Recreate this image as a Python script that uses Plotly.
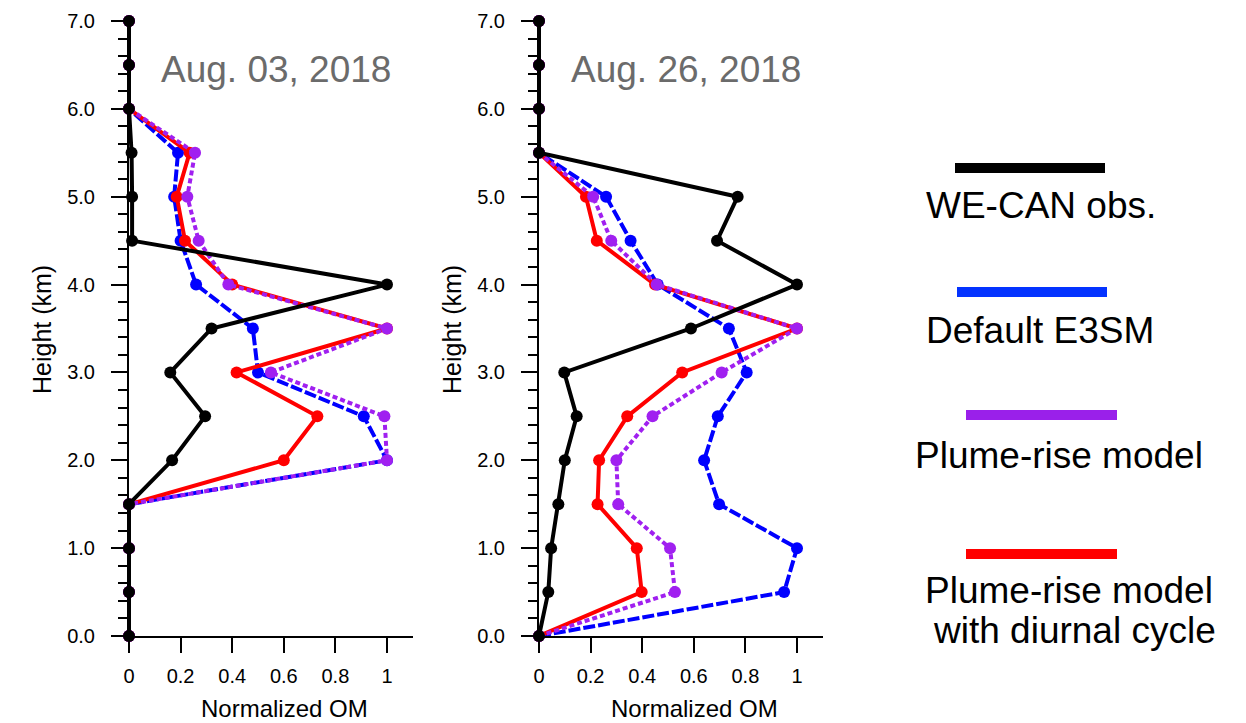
import plotly.graph_objects as go

# ---------------- data ----------------
heights = [0.0, 0.5, 1.0, 1.5, 2.0, 2.5, 3.0, 3.5, 4.0, 4.5, 5.0, 5.5, 6.0, 6.5, 7.0]

# Aug. 03, 2018
obs_0803 = [0, 0, 0, 0, 0.167, 0.295, 0.16, 0.32, 1.0, 0.012, 0.012, 0.01, 0, 0, 0]
e3sm_0803 = [0, 0, 0, 0, 1.0, 0.91, 0.50, 0.48, 0.26, 0.20, 0.175, 0.19, 0, 0, 0]
plume_0803 = [0, 0, 0, 0, 1.0, 0.99, 0.55, 1.0, 0.385, 0.27, 0.226, 0.256, 0, 0, 0]
diurnal_0803 = [0, 0, 0, 0, 0.60, 0.73, 0.417, 1.0, 0.40, 0.217, 0.185, 0.235, 0, 0, 0]

# Aug. 26, 2018
obs_0826 = [0, 0.036, 0.047, 0.075, 0.10, 0.146, 0.098, 0.589, 1.0, 0.69, 0.77, 0, 0, 0, 0]
e3sm_0826 = [0, 0.95, 1.0, 0.698, 0.64, 0.693, 0.805, 0.736, 0.46, 0.355, 0.26, 0, 0, 0, 0]
plume_0826 = [0, 0.527, 0.508, 0.307, 0.30, 0.44, 0.708, 1.0, 0.456, 0.28, 0.21, 0, 0, 0, 0]
diurnal_0826 = [0, 0.398, 0.379, 0.227, 0.233, 0.342, 0.555, 1.0, 0.45, 0.224, 0.182, 0, 0, 0, 0]

panel_titles = ["Aug. 03, 2018", "Aug. 26, 2018"]
series_names = ["WE-CAN obs.", "Default E3SM", "Plume-rise model", "Plume-rise model with diurnal cycle"]
x_tickvals = [0, 0.2, 0.4, 0.6, 0.8, 1.0]
x_ticktext = ["0", "0.2", "0.4", "0.6", "0.8", "1"]

# ---------------- styles ----------------
W, H = 1246, 723
FONT = "Liberation Sans, Arial, Helvetica, sans-serif"
styles = {
    "WE-CAN obs.": dict(color="#000000", dash="solid"),
    "Default E3SM": dict(color="#0000ff", dash="12px,3px"),
    "Plume-rise model": dict(color="#a020f0", dash="5px,3px"),
    "Plume-rise model with diurnal cycle": dict(color="#ff0000", dash="solid"),
}
draw_order = ["Default E3SM", "Plume-rise model with diurnal cycle", "Plume-rise model", "WE-CAN obs."]

panels = [
    {"WE-CAN obs.": obs_0803, "Default E3SM": e3sm_0803,
     "Plume-rise model": plume_0803, "Plume-rise model with diurnal cycle": diurnal_0803},
    {"WE-CAN obs.": obs_0826, "Default E3SM": e3sm_0826,
     "Plume-rise model": plume_0826, "Plume-rise model with diurnal cycle": diurnal_0826},
]


def px(x):
    return x / W


def py(y):
    return 1 - y / H


fig = go.Figure()
axis_ids = [("x", "y"), ("x2", "y2")]
for (xa, ya), data in zip(axis_ids, panels):
    for name in draw_order:
        st = styles[name]
        fig.add_trace(go.Scatter(
            x=data[name], y=heights, mode="lines+markers", name=name,
            xaxis=xa, yaxis=ya, showlegend=False, cliponaxis=False,
            line=dict(color=st["color"], width=4, dash=st["dash"]),
            marker=dict(color=st["color"], size=12),
        ))

x_left = [129, 539]
unit = 258
for i, xl in enumerate(x_left):
    sfx = "" if i == 0 else str(i + 1)
    fig.layout["xaxis" + sfx] = dict(
        domain=[px(xl), px(xl + 1.1 * unit)], range=[0, 1.1], anchor="y" + sfx,
        tickvals=x_tickvals, ticktext=x_ticktext, ticks="outside", ticklen=15,
        tickwidth=2, tickcolor="black", showline=True, linewidth=2, linecolor="black",
        showgrid=False, zeroline=False, ticklabelstandoff=6, automargin=False,
        tickfont=dict(family=FONT, size=20, color="black"),
    )
    fig.layout["yaxis" + sfx] = dict(
        domain=[py(636), py(21)], range=[0, 7], anchor="x" + sfx,
        tickvals=list(range(8)), tickformat=".1f", ticks="outside", ticklen=16,
        tickwidth=2, tickcolor="black", showline=True, linewidth=2, linecolor="black",
        showgrid=False, zeroline=False, ticklabelstandoff=12, automargin=False,
        minor=dict(dtick=0.2, ticks="outside", ticklen=9, tickwidth=2, tickcolor="black", showgrid=False),
        tickfont=dict(family=FONT, size=20, color="black"),
    )

annotations = []
for i, xl in enumerate(x_left):
    off = xl - 129
    annotations.append(dict(text=panel_titles[i], x=px(276 + off), y=py(69), xref="paper", yref="paper",
                            showarrow=False, xanchor="center", yanchor="middle",
                            font=dict(family=FONT, size=37, color="#6b6b6b")))
    annotations.append(dict(text="Height (km)", x=px(42 + off), y=py(330), xref="paper", yref="paper",
                            showarrow=False, textangle=-90, xanchor="center", yanchor="middle",
                            font=dict(family=FONT, size=25, color="black")))
    annotations.append(dict(text="Normalized OM", x=px(284 + off), y=0, xref="paper", yref="paper",
                            showarrow=False, xanchor="center", yanchor="bottom",
                            borderpad=0,
                            font=dict(family=FONT, size=24, color="black")))

# legend (drawn manually)
legend_items = [
    ("WE-CAN obs.", "#000000", 955, 1105, 168, [("WE-CAN obs.", 1041, 205)]),
    ("Default E3SM", "#0433ff", 957, 1107, 292, [("Default E3SM", 1040, 331)]),
    ("Plume-rise model", "#9a20ea", 966, 1117, 415, [("Plume-rise model", 1059, 455)]),
    ("Plume-rise model with diurnal cycle", "#ff0000", 966, 1117, 554,
     [("Plume-rise model", 1069, 590), ("with diurnal cycle", 1074, 630)]),
]
shapes = []
for name, col, x0, x1, yc, texts in legend_items:
    shapes.append(dict(type="rect", xref="paper", yref="paper", x0=px(x0), x1=px(x1),
                       y0=py(yc + 5), y1=py(yc - 5), fillcolor=col, line=dict(width=0)))
    for t, tx, ty in texts:
        annotations.append(dict(text=t, x=px(tx), y=py(ty), xref="paper", yref="paper",
                                showarrow=False, xanchor="center", yanchor="middle",
                                font=dict(family=FONT, size=37, color="black")))

fig.update_layout(
    width=W, height=H, margin=dict(l=0, r=0, t=0, b=0, autoexpand=False),
    paper_bgcolor="white", plot_bgcolor="white",
    annotations=annotations, shapes=shapes, showlegend=False,
)

fig.write_html("out.html")
